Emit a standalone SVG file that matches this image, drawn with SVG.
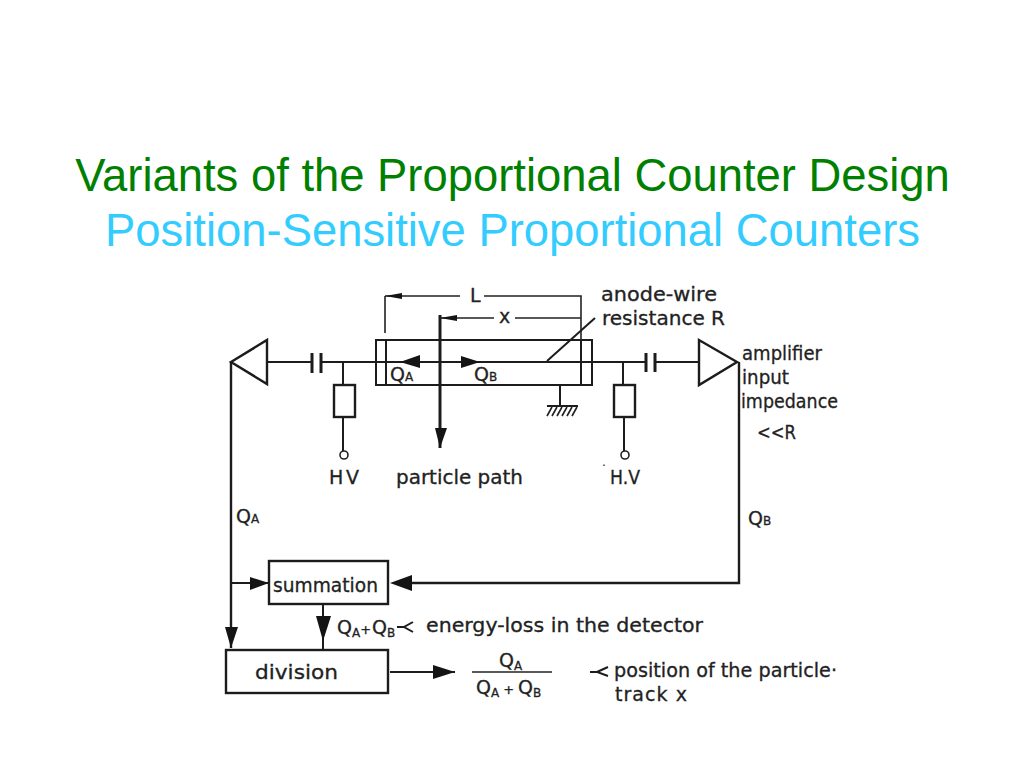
<svg xmlns="http://www.w3.org/2000/svg" width="1024" height="768" viewBox="0 0 1024 768">
<style>
.t{font-family:"Liberation Sans",Arial,sans-serif;font-size:45.4px;text-anchor:middle}
.l{font-family:"DejaVu Sans","Liberation Sans",sans-serif;font-size:19px;fill:#222;stroke:#222;stroke-width:.3}
.s{font-family:"DejaVu Sans","Liberation Sans",sans-serif;font-size:12px;fill:#222}
.w{fill:none;stroke:#1c1c1c;stroke-width:2}
.n{fill:none;stroke:#222;stroke-width:1.6}
.b{fill:#fff;stroke:#1c1c1c;stroke-width:2.4}
.a{fill:#141414;stroke:none}
</style>
<rect width="1024" height="768" fill="#fff"/>
<text class="t" x="512.500" y="191" fill="#008000">Variants of the Proportional Counter Design</text>
<text class="t" x="512.500" y="246" fill="#33ccff">Position-Sensitive Proportional Counters</text>
<g id="detector"><rect class="w" x="376" y="340" width="216" height="45"/><path class="w" d="M386 340V385M581 340V385"/></g>
<g id="connectors">
<path class="w" d="M267 362H311M322 362H376M343 362V385M343 417V451"/>
<path class="w" d="M592 362H645M655 362H699M623 362V385M624 417V451"/>
<path class="w" d="M376 362H592" style="stroke-width:1.800"/>
<path class="w" d="M231 362V648M739 362V583H395" style="stroke-width:2.400"/>
<path class="w" d="M231 583H269"/>
<path class="w" d="M323 604V650"/>
<path class="w" d="M390 672H455"/>
<path class="w" d="M440 315V448" style="stroke-width:3"/>
<path class="n" d="M385 296V333M385 296H460M484 296H581V340M440 318H494M515 318H581"/>
<path class="w" d="M547 361L595 318"/>
<path class="w" d="M560 385V405"/>
<path class="n" d="M472 672H552"/>
<path class="w" d="M590 672H598M608 667L597 672L608 676"/>
<path class="w" d="M397 627H405M413 622L404 627L413 632"/>
<polygon class="a" points="400,362 420,355 420,368"/>
<polygon class="a" points="480,362 461,356 461,368"/>
<polygon class="a" points="440,448 435,428 447,428"/>
<polygon class="a" points="269,583 250,577 250,590"/>
<polygon class="a" points="231,648 225,627 238,627"/>
<polygon class="a" points="390,583 412,575 412,591"/>
<polygon class="a" points="323,641 316,616 331,616"/>
<polygon class="a" points="455,672 433,665 433,679"/>
<polygon class="a" points="385,296 402,293 402,299"/>
<polygon class="a" points="440,318 457,315 457,321"/>
</g>
<g id="amp-a"><polygon class="w" points="231,362 267,340 267,384" style="stroke-width:2.400"/></g>
<g id="amp-b"><polygon class="w" points="699,340 699,385 737,362" style="stroke-width:2.400"/></g>
<g id="cap-a"><path class="w" d="M312 353V373M321 353V373" style="stroke-width:3"/></g>
<g id="cap-b"><path class="w" d="M646 353V372M655 353V372" style="stroke-width:3"/></g>
<g id="res-a"><rect class="b" x="334" y="385" width="21" height="32"/></g>
<g id="res-b"><rect class="b" x="614" y="385" width="21" height="32"/></g>
<g id="term-a"><circle class="n" cx="344" cy="455" r="4"/></g>
<g id="term-b"><circle class="n" cx="625" cy="455" r="4"/></g>
<g id="ground"><path class="w" d="M547 406H578"/><path class="n" d="M552 407L547 416M557 407L552 416M562 407L557 416M567 407L562 416M572 407L567 416M577 407L572 416"/></g>
<g id="summation"><rect class="b" x="269" y="561" width="119" height="43"/><text class="l" x="273" y="592" textLength="105" lengthAdjust="spacingAndGlyphs">summation</text></g>
<g id="division"><rect class="b" x="226" y="650" width="162" height="43"/><text class="l" x="255" y="679" textLength="83" lengthAdjust="spacingAndGlyphs">division</text></g>
<g id="labels">
<text class="l" x="470" y="302">L</text>
<text class="l" x="499" y="323">x</text>
<text class="l" x="601" y="301" textLength="116" lengthAdjust="spacingAndGlyphs">anode-wire</text>
<text class="l" x="602" y="325" textLength="123" lengthAdjust="spacingAndGlyphs">resistance R</text>
<text class="l" x="742" y="360" textLength="80" lengthAdjust="spacingAndGlyphs">amplifier</text>
<text class="l" x="742" y="384" textLength="47" lengthAdjust="spacingAndGlyphs">input</text>
<text class="l" x="741" y="408" textLength="97" lengthAdjust="spacingAndGlyphs">impedance</text>
<text class="l" x="757" y="439" textLength="39" lengthAdjust="spacingAndGlyphs">&lt;&lt;R</text>
<text class="l" x="329" y="484" textLength="30" lengthAdjust="spacing">HV</text>
<text class="l" x="610" y="484" textLength="30" lengthAdjust="spacingAndGlyphs">H.V</text>
<text class="l" x="396" y="484" textLength="127" lengthAdjust="spacingAndGlyphs">particle path</text>
<text class="l" x="390" y="381">Q<tspan class="s">A</tspan></text>
<text class="l" x="474" y="381">Q<tspan class="s">B</tspan></text>
<text class="l" x="236" y="523">Q<tspan class="s">A</tspan></text>
<text class="l" x="748" y="525">Q<tspan class="s">B</tspan></text>
<text class="l" x="337" y="634">Q<tspan class="s" dy="3">A</tspan><tspan dy="-3" style="font-size:13px">+</tspan><tspan dx="1">Q</tspan><tspan class="s" dy="3">B</tspan></text>
<text class="l" x="426" y="632" textLength="277" lengthAdjust="spacingAndGlyphs">energy-loss in the detector</text>
<text class="l" x="499" y="667">Q<tspan class="s" dy="3">A</tspan></text>
<text class="l" x="476" y="694">Q<tspan class="s" dy="3">A</tspan><tspan dy="-3" dx="4" style="font-size:13px">+</tspan><tspan dx="4">Q</tspan><tspan class="s" dy="3">B</tspan></text>
<text class="l" x="614" y="677" textLength="223" lengthAdjust="spacingAndGlyphs">position of the particle·</text>
<text class="l" x="615" y="701" textLength="72" lengthAdjust="spacing">track x</text>
<text class="s" x="602" y="470">·</text>
</g>
</svg>
